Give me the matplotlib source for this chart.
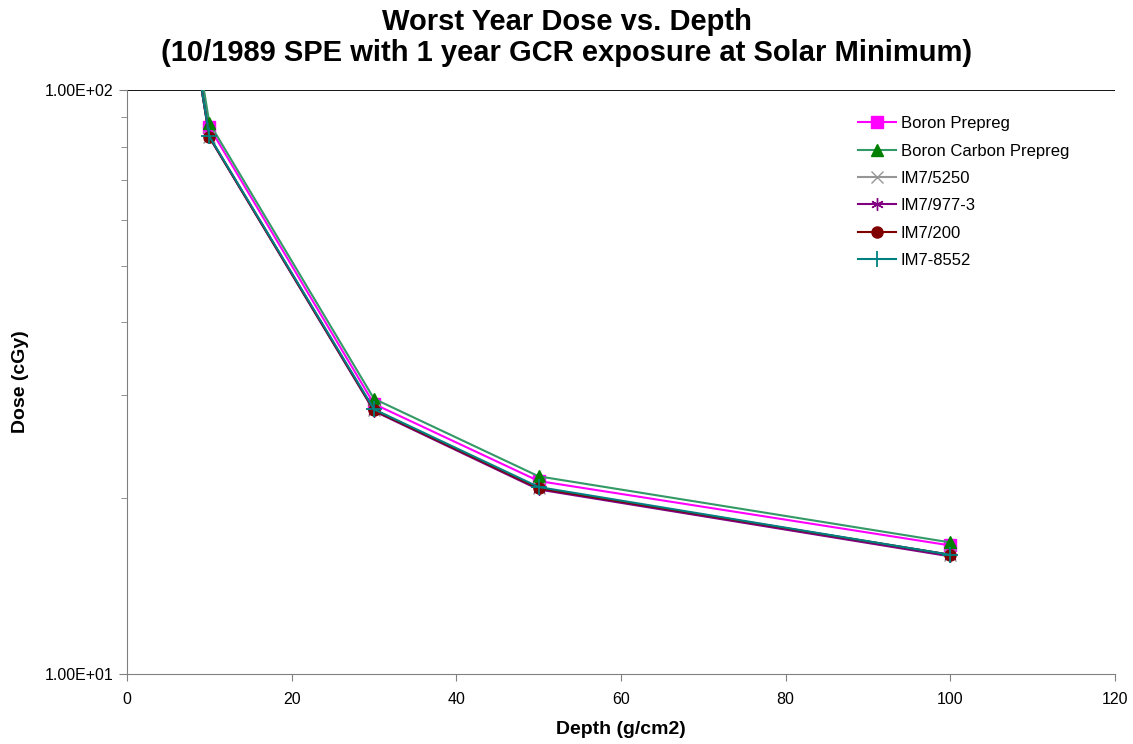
import numpy as np
import matplotlib
matplotlib.use('Agg')
import matplotlib.pyplot as plt
from matplotlib.ticker import FixedLocator, FixedFormatter, LogLocator, NullFormatter

plt.rcParams['font.family'] = ['Liberation Sans', 'DejaVu Sans']

# Depth (g/cm2) and dose (cGy) per material
depth = [5, 10, 30, 50, 100]
boron_prepreg = [235, 86.4, 29.0, 21.4, 16.6]
boron_carbon_prepreg = [238, 87.8, 29.6, 21.8, 16.8]
im7_5250 = [228, 83.2, 28.3, 20.8, 16.0]
im7_977_3 = [227, 83.0, 28.2, 20.7, 15.9]
im7_200 = [228, 83.1, 28.3, 20.8, 16.0]
im7_8552 = [229, 83.3, 28.4, 20.9, 16.0]

W, H = 1133, 744
fig = plt.figure(figsize=(W / 100, H / 100), dpi=100)
ax = fig.add_axes([127 / W, 1 - 674 / H, 988 / W, 584 / H])

# series styles (Excel-ish defaults)
ax.plot(depth, boron_prepreg, color='#FF00FF', marker='s', markersize=9, label='Boron Prepreg')
ax.plot(depth, boron_carbon_prepreg, color='#339966', marker='^', markersize=9,
        markerfacecolor='#008000', markeredgecolor='#008000', label='Boron Carbon Prepreg')
ax.plot(depth, im7_5250, color='#969696', marker='x', markersize=8, label='IM7/5250')
ax.plot(depth, im7_977_3, color='#800080', marker=(6, 2, 0), markersize=9, label='IM7/977-3')
ax.plot(depth, im7_200, color='#800000', marker='o', markersize=8, label='IM7/200')
ax.plot(depth, im7_8552, color='#008080', marker='+', markersize=11, markeredgewidth=1.3, label='IM7-8552')

ax.set_yscale('log')
ax.set_xlim(0, 120)
ax.set_ylim(10, 100)
ax.set_xticks(np.arange(0, 121, 20))
ax.yaxis.set_major_locator(FixedLocator([10, 100]))
ax.yaxis.set_major_formatter(FixedFormatter(['1.00E+01', '1.00E+02']))
ax.yaxis.set_minor_locator(LogLocator(base=10, subs=np.arange(2, 10)))
ax.yaxis.set_minor_formatter(NullFormatter())
ax.tick_params(axis='both', labelsize=11.5, colors='black')
ax.tick_params(axis='y', which='major', direction='out', length=6, color='#808080')
ax.tick_params(axis='y', which='minor', direction='out', length=4, color='#808080')
ax.tick_params(axis='x', direction='out', length=5, color='#808080', pad=8)

ax.axhline(100, color='black', linewidth=1.3, zorder=0)
ax.spines['top'].set_visible(False)
ax.spines['right'].set_visible(False)
ax.spines['left'].set_color('#808080')
ax.spines['bottom'].set_color('#808080')

# axis titles and chart title placed like the original
fig.text(621 / W, 1 - 730 / H, 'Depth (g/cm2)', ha='center', va='center', fontsize=14, fontweight='bold')
fig.text(21 / W, 1 - 382 / H, 'Dose (cGy)', ha='center', va='center', rotation=90,
         fontsize=14, fontweight='bold')
fig.text(567 / W, 1 - 22 / H, 'Worst Year Dose vs. Depth', ha='center', va='center',
         fontsize=21, fontweight='bold')
fig.text(567 / W, 1 - 53 / H, '(10/1989 SPE with 1 year GCR exposure at Solar Minimum)',
         ha='center', va='center', fontsize=21, fontweight='bold')

ax.legend(loc='upper left', bbox_to_anchor=(0.740, 0.955), frameon=False, fontsize=12,
          borderpad=0, borderaxespad=0, handlelength=2.3, labelspacing=0.74, handletextpad=0.25)

fig.savefig('out.png', dpi=100)
